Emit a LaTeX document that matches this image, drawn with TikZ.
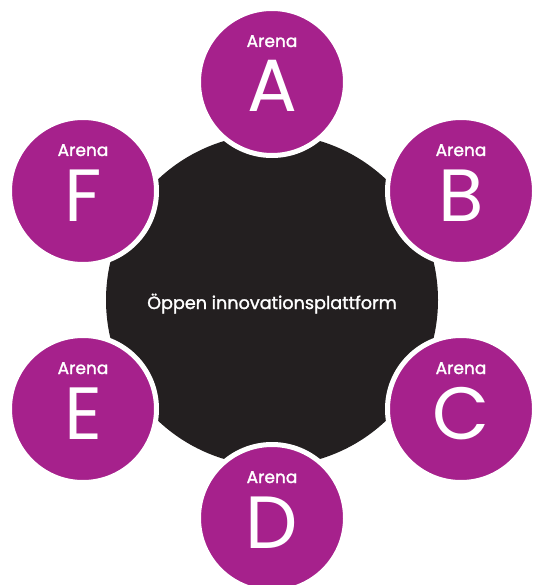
\documentclass[tikz,border=0pt]{standalone}
\usepackage{fontspec}
\setmainfont{Poppins}
\newfontfamily\heavierfont[FakeBold=1.6]{Poppins}
\definecolor{arenapurple}{RGB}{166,33,140}
\definecolor{hubdark}{RGB}{35,31,32}
\begin{document}
\begin{tikzpicture}[x=1pt,y=-1pt,
  hubdisc/.style={circle, fill=hubdark, minimum size=332pt, inner sep=0pt},
  arena/.style={circle, fill=arenapurple, draw=white, line width=5pt,
    minimum size=147pt, inner sep=0pt},
  arenaword/.style={text=white, anchor=base, inner sep=0pt,
    font=\heavierfont\fontsize{17}{17}\selectfont, yshift=35pt},
  arenaletter/.style={text=white, anchor=base, inner sep=0pt,
    font=\fontsize{74}{74}\selectfont, yshift=-30pt},
  hubtitle/.style={text=white, anchor=base, inner sep=0pt,
    font=\heavierfont\fontsize{17.6}{17.6}\selectfont, yshift=-9pt}]
\useasboundingbox (0,0) rectangle (534,585);
\clip (0,0) rectangle (534,585);
\fill[white] (0,0) rectangle (534,585);
% central platform
\node[hubdisc] (hub) at (272,300) {};
\node[hubtitle] (hubtext) at (hub.center) {Öppen innovationsplattform};
% the six arenas around it
\foreach \name/\px/\py in {A/272/82, B/461/191, C/461/409, D/272/518, E/83/409, F/83/191}{
  \node[arena] (arena\name) at (\px,\py) {};
  \node[arenaword] (word\name) at (arena\name.center) {Arena};
  \node[arenaletter] (letter\name) at (arena\name.center) {\name};
}
\end{tikzpicture}
\end{document}
